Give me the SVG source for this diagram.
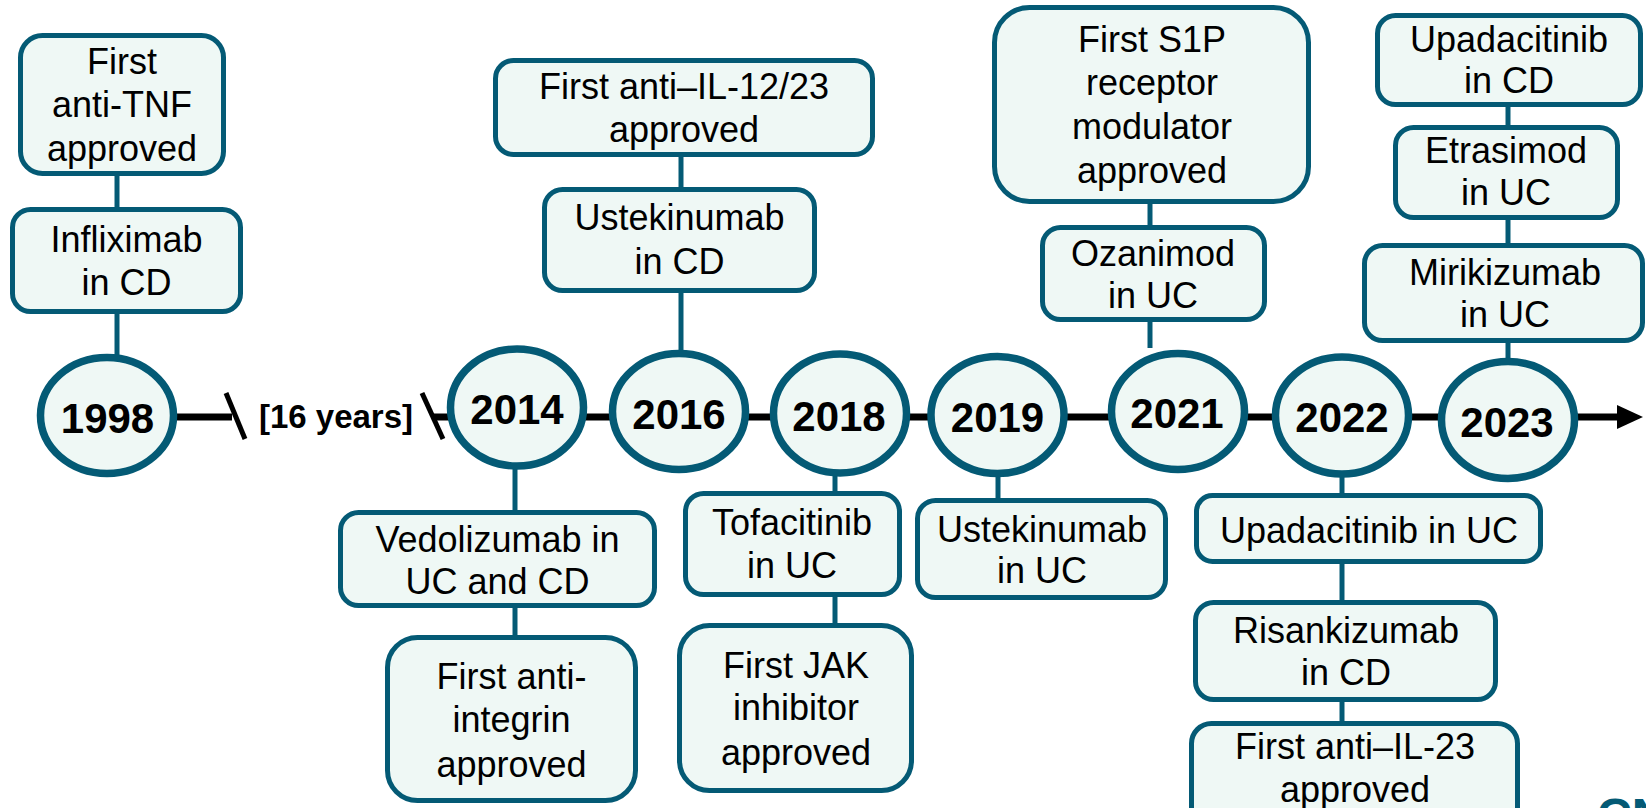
<svg xmlns="http://www.w3.org/2000/svg" width="1646" height="808" viewBox="0 0 1646 808">
<style>
.box{fill:#EFF8F5;stroke:#045A75;stroke-width:5}
.yr{fill:#EFF8F5;stroke:#045A75;stroke-width:7.5}
.con{stroke:#045A75;stroke-width:5;fill:none}
.tl{stroke:#000;stroke-width:7;fill:none}
.t{font-family:"Liberation Sans",Arial,sans-serif;font-size:36px;fill:#000;text-anchor:middle}
.y{font-family:"Liberation Sans",Arial,sans-serif;font-size:42px;font-weight:bold;fill:#000;text-anchor:middle}
</style>
<rect width="1646" height="808" fill="#fff"/>
<g id="connectors">
<line class="tl" x1="177" y1="417" x2="232" y2="417"/>
<line class="tl" x1="432" y1="417" x2="1620" y2="417"/>
<polygon points="1617,405 1643,417 1617,429" fill="#000"/>
<line x1="226" y1="393" x2="245" y2="439" stroke="#000" stroke-width="5"/>
<line x1="422" y1="393" x2="443" y2="439" stroke="#000" stroke-width="5"/>
<line class="con" x1="117" y1="175" x2="117" y2="209"/>
<line class="con" x1="117" y1="312" x2="117" y2="356"/>
<line class="con" x1="681" y1="156" x2="681" y2="189"/>
<line class="con" x1="681" y1="292" x2="681" y2="352"/>
<line class="con" x1="515" y1="468" x2="515" y2="512"/>
<line class="con" x1="515" y1="606" x2="515" y2="637"/>
<line class="con" x1="835" y1="475" x2="835" y2="493"/>
<line class="con" x1="835" y1="595" x2="835" y2="625"/>
<line class="con" x1="998" y1="475" x2="998" y2="500"/>
<line class="con" x1="1150" y1="202" x2="1150" y2="227"/>
<line class="con" x1="1150" y1="320" x2="1150" y2="348"/>
<line class="con" x1="1342" y1="476" x2="1342" y2="495"/>
<line class="con" x1="1342" y1="562" x2="1342" y2="602"/>
<line class="con" x1="1342" y1="700" x2="1342" y2="723"/>
<line class="con" x1="1508" y1="105" x2="1508" y2="127"/>
<line class="con" x1="1508" y1="218" x2="1508" y2="245"/>
<line class="con" x1="1508" y1="341" x2="1508" y2="360"/>
</g>
<text x="336" y="428" font-family="Liberation Sans,Arial,sans-serif" font-size="33" font-weight="bold" text-anchor="middle">[16 years]</text>
<g id="y1998"><ellipse class="yr" cx="107" cy="415.5" rx="66.5" ry="58"/><text class="y" x="107.5" y="433">1998</text></g>
<g id="y2014"><ellipse class="yr" cx="517" cy="407.5" rx="66.5" ry="58.5"/><text class="y" x="517" y="424">2014</text></g>
<g id="y2016"><ellipse class="yr" cx="679" cy="411.5" rx="66.5" ry="58"/><text class="y" x="679" y="429">2016</text></g>
<g id="y2018"><ellipse class="yr" cx="840" cy="413.5" rx="66.5" ry="59.5"/><text class="y" x="839" y="431">2018</text></g>
<g id="y2019"><ellipse class="yr" cx="997.5" cy="415" rx="66.5" ry="58.5"/><text class="y" x="997.5" y="432">2019</text></g>
<g id="y2021"><ellipse class="yr" cx="1178" cy="411.5" rx="66.5" ry="58"/><text class="y" x="1177" y="428">2021</text></g>
<g id="y2022"><ellipse class="yr" cx="1342" cy="415.5" rx="66.5" ry="58.5"/><text class="y" x="1342" y="432">2022</text></g>
<g id="y2023"><ellipse class="yr" cx="1508" cy="420" rx="66.5" ry="58.5"/><text class="y" x="1507" y="437">2023</text></g>

<g id="n-antiTNF"><rect class="box" x="20.5" y="35.5" width="203" height="138" rx="22"/><text class="t" x="122" y="74">First</text><text class="t" x="122" y="117">anti-TNF</text><text class="t" x="122" y="161">approved</text></g>
<g id="n-infliximab"><rect class="box" x="12.5" y="209.5" width="228" height="102" rx="18"/><text class="t" x="126.5" y="252">Infliximab</text><text class="t" x="126.5" y="295">in CD</text></g>
<g id="n-il1223"><rect class="box" x="495.5" y="60.5" width="377" height="94" rx="18"/><text class="t" x="684" y="99">First anti–IL-12/23</text><text class="t" x="684" y="142">approved</text></g>
<g id="n-usteCD"><rect class="box" x="544.5" y="189.5" width="270" height="101" rx="18"/><text class="t" x="679.5" y="230">Ustekinumab</text><text class="t" x="679.5" y="274">in CD</text></g>
<g id="n-vedo"><rect class="box" x="340.5" y="512.5" width="314" height="93" rx="18"/><text class="t" x="497.5" y="552">Vedolizumab in</text><text class="t" x="497.5" y="594">UC and CD</text></g>
<g id="n-integrin"><rect class="box" x="387.5" y="637.5" width="248" height="163" rx="30"/><text class="t" x="511.5" y="689">First anti-</text><text class="t" x="511.5" y="732">integrin</text><text class="t" x="511.5" y="777">approved</text></g>
<g id="n-tofa"><rect class="box" x="685.5" y="493.5" width="214" height="101" rx="18"/><text class="t" x="792" y="535">Tofacitinib</text><text class="t" x="792" y="578">in UC</text></g>
<g id="n-jak"><rect class="box" x="679.5" y="625.5" width="232" height="165" rx="30"/><text class="t" x="796" y="678">First JAK</text><text class="t" x="796" y="720">inhibitor</text><text class="t" x="796" y="765">approved</text></g>
<g id="n-usteUC"><rect class="box" x="917.5" y="500.5" width="248" height="97" rx="18"/><text class="t" x="1042" y="542">Ustekinumab</text><text class="t" x="1042" y="583">in UC</text></g>
<g id="n-s1p"><rect class="box" x="994.5" y="7.5" width="314" height="194" rx="35"/><text class="t" x="1152" y="52">First S1P</text><text class="t" x="1152" y="95">receptor</text><text class="t" x="1152" y="139">modulator</text><text class="t" x="1152" y="183">approved</text></g>
<g id="n-ozan"><rect class="box" x="1042.5" y="227.5" width="222" height="92" rx="18"/><text class="t" x="1153" y="266">Ozanimod</text><text class="t" x="1153" y="308">in UC</text></g>
<g id="n-upaUC"><rect class="box" x="1196.5" y="495.5" width="344" height="66" rx="16"/><text class="t" x="1369" y="543">Upadacitinib in UC</text></g>
<g id="n-risa"><rect class="box" x="1195.5" y="602.5" width="300" height="97" rx="18"/><text class="t" x="1346" y="643">Risankizumab</text><text class="t" x="1346" y="685">in CD</text></g>
<g id="n-il23"><rect class="box" x="1191.5" y="723.5" width="326" height="110" rx="20"/><text class="t" x="1355" y="759">First anti–IL-23</text><text class="t" x="1355" y="802">approved</text></g>
<g id="n-upaCD"><rect class="box" x="1377.5" y="15.5" width="263" height="89" rx="18"/><text class="t" x="1509" y="52">Upadacitinib</text><text class="t" x="1509" y="93">in CD</text></g>
<g id="n-etra"><rect class="box" x="1395.5" y="127.5" width="222" height="90" rx="18"/><text class="t" x="1506" y="163">Etrasimod</text><text class="t" x="1506" y="205">in UC</text></g>
<g id="n-miri"><rect class="box" x="1364.5" y="245.5" width="278" height="95" rx="18"/><text class="t" x="1505" y="285">Mirikizumab</text><text class="t" x="1505" y="327">in UC</text></g>
<text x="1597" y="832" font-family="Liberation Sans,Arial,sans-serif" font-size="48" font-weight="bold" fill="#045A75">CN</text>
</svg>
